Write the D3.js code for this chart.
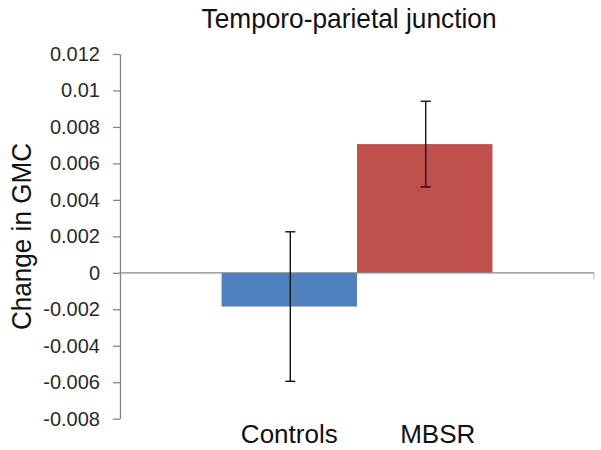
<!DOCTYPE html>
<html>
<head>
<meta charset="utf-8">
<script src="https://cdn.jsdelivr.net/npm/d3@7"></script>
<style>
  html, body { margin: 0; padding: 0; background: #fff; }
  svg { display: block; font-family: "Liberation Sans", Arial, sans-serif; }
</style>
</head>
<body>
<svg id="chart" width="601" height="450"></svg>
<script>
// ---- data ----
const categories = ["Controls", "MBSR"];
const values = [-0.00185, 0.00706];
const errors = [0.0041, 0.00235];
const colors = ["#4F81BD", "#C0504D"];
const yTicks = [0.012, 0.01, 0.008, 0.006, 0.004, 0.002, 0, -0.002, -0.004, -0.006, -0.008];
const yTickLabels = ["0.012", "0.01", "0.008", "0.006", "0.004", "0.002", "0", "-0.002", "-0.004", "-0.006", "-0.008"];
const title = "Temporo-parietal junction";
const yTitle = "Change in GMC";

// ---- layout ----
const svg = d3.select("#chart");
const plot = { left: 120, right: 594, top: 54, bottom: 418.7 };

const y = d3.scaleLinear().domain([-0.008, 0.012]).range([plot.bottom, plot.top]);
const x = d3.scaleBand().domain(categories).range([plot.left, plot.right])
  .paddingInner(0).paddingOuter(0.75);

// y axis
const yAxis = d3.axisLeft(y).tickValues(yTicks)
  .tickFormat((d, i) => yTickLabels[i]).tickSize(7).tickSizeOuter(0).tickPadding(13);
const gy = svg.append("g").attr("transform", `translate(${plot.left},0)`).call(yAxis);
gy.select(".domain").attr("stroke", "#868686").attr("stroke-width", 1.3);
gy.selectAll(".tick line").attr("stroke", "#868686").attr("stroke-width", 1.3);
gy.selectAll(".tick text").attr("fill", "#2a2a2a").attr("font-size", 20)
  .attr("font-family", "'Liberation Sans', Arial, sans-serif");

// bars
svg.append("g").selectAll("rect").data(categories).join("rect")
  .attr("x", d => x(d))
  .attr("width", x.bandwidth())
  .attr("y", (d, i) => y(Math.max(0, values[i])))
  .attr("height", (d, i) => Math.abs(y(values[i]) - y(0)))
  .attr("fill", (d, i) => colors[i]);

// zero line (category axis)
svg.append("line")
  .attr("x1", plot.left).attr("x2", plot.right)
  .attr("y1", y(0)).attr("y2", y(0))
  .attr("stroke", "#868686").attr("stroke-width", 1.3);
svg.append("line")
  .attr("x1", plot.right).attr("x2", plot.right)
  .attr("y1", y(0)).attr("y2", y(0) + 7)
  .attr("stroke", "#c8c8c8").attr("stroke-width", 1.3);

// error bars
const eb = svg.append("g").attr("stroke", "#111").attr("stroke-width", 1.4);
categories.forEach((c, i) => {
  const cx = x(c) + x.bandwidth() / 2 + 1;
  const hi = y(values[i] + errors[i]), lo = y(values[i] - errors[i]);
  eb.append("line").attr("x1", cx).attr("x2", cx).attr("y1", hi).attr("y2", lo);
  eb.append("line").attr("x1", cx - 5).attr("x2", cx + 5).attr("y1", hi).attr("y2", hi);
  eb.append("line").attr("x1", cx - 5).attr("x2", cx + 5).attr("y1", lo).attr("y2", lo);
});

// category labels
const labelShift = [0, 13];
svg.append("g").selectAll("text").data(categories).join("text")
  .attr("x", (d, i) => x(d) + x.bandwidth() / 2 + labelShift[i])
  .attr("y", 443)
  .attr("text-anchor", "middle")
  .attr("font-size", 26)
  .attr("fill", "#111")
  .text(d => d);

// title
svg.append("text")
  .attr("x", 349).attr("y", 28)
  .attr("text-anchor", "middle")
  .attr("font-size", 28)
  .attr("fill", "#111")
  .attr("textLength", 295).attr("lengthAdjust", "spacingAndGlyphs")
  .text(title);

// y title
svg.append("text")
  .attr("transform", "translate(31,236.5) rotate(-90)")
  .attr("text-anchor", "middle")
  .attr("font-size", 27)
  .attr("fill", "#111")
  .attr("textLength", 187).attr("lengthAdjust", "spacingAndGlyphs")
  .text(yTitle);
</script>
</body>
</html>
